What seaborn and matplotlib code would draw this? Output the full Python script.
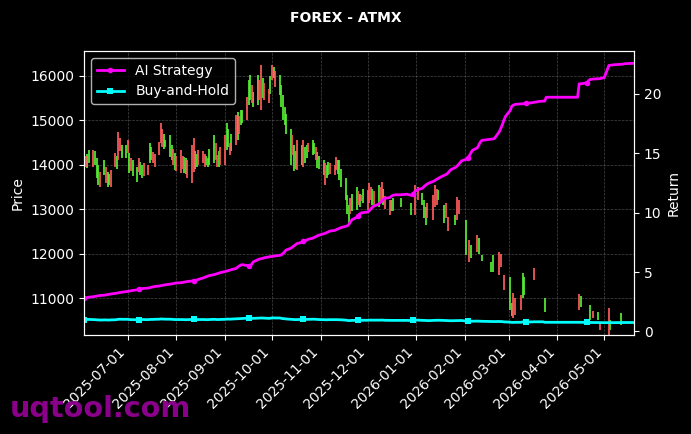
import numpy as np
import pandas as pd
import matplotlib
matplotlib.use("Agg")
import matplotlib.pyplot as plt
import matplotlib.dates as mdates
import seaborn as sns

N = float("nan")

# ---------------- data ----------------
start_date, end_date = "2025-06-03", "2026-05-20"
closed_days = ["2026-02-16", "2026-02-17", "2026-04-03", "2026-04-06"]
title = "FOREX - ATMX"

# candle direction per trading day (G = up, R = down, . = no candle), one group per week
candle_dir = ("GRGG RGGGR GRGGR RGRRG GRGRG GRGGR RGGRR RRRGG GGRGR RRGGR RRGGR RRGGG GRRGR "
              "RGGRG RGRGG RGGRG GRRGR RGRGR GGGGG GRGGR GRGGR GGRGG GRGGR RRGGG GGGRG GRGRG "
              "RRRGR GRRGR RGG.. G.... G.R.R GGGR. RRRG. GRR.. GRR.. G.RG. RG.G. GG. RR.R. "
              "GGRR. RGG.. .R... .G... .... .... ..RG. ..G.R GR... RG... .G... ...")

candle_low = [14000, 13950, 13930, 14050,
              13950, 14000, 13700, 13550, 13500,
              13770, 13600, 13500, 13550, 13500,
              13950, 13900, 14100, 14300, 14150,
              14150, 14260, 13820, 13850, 13750,
              13610, 13840, 13770, 13700, 13750,
              13770, 14040, 14100, 14040, 13950,
              14220, 14500, 14400, 14350, 14400,
              14180, 14100, 14000, 13880, 13850,
              13820, 13900, 13820, 13800, 13700,
              13590, 13840, 13900, 13950, 14000,
              14050, 13950, 14000, 13950, 14000,
              14040, 14100, 13950, 13950, 14000,
              13990, 14330, 14400, 14220, 14300,
              14450, 14560, 14700, 14900, 14950,
              15010, 15350, 15450, 15400, 15300,
              15350, 15450, 15230, 15500, 15450,
              15400, 15600, 15900, 15950, 15750,
              15570, 15300, 15010, 14900, 14700,
              14000, 14220, 13860, 13900, 13880,
              14000, 13950, 14050, 14150, 14290,
              14220, 14250, 14100, 13930, 13900,
              13770, 13550, 13700, 13770, 13800,
              13770, 13880, 13800, 13660, 13500,
              13210, 12900, 12640, 12900, 12950,
              12980, 13100, 13050, 13190, 13150,
              12980, 13150, 13200, 13100, 13050,
              13050, 13150, 13210, 13100, 13000,
              12870, 12950, 12950, N, N,
              13050, N, N, N, N,
              12870, N, 12870, N, 13200,
              13100, 12800, 12650, 12800, N,
              12760, 13050, 13100, 13200, N,
              12700, 12800, 12500, N, N,
              12650, 12760, 12900, N, N,
              11970, N, 11810, 11900, N,
              12040, 12000, N, 11830, N,
              11590, 11590, N,
              11520, 11700, N, 11180, N,
              10730, 10600, 10560, 10620, N,
              10730, 11000, 11070, N, N,
              N, 11400, N, N, N,
              N, 10680, N, N, N,
              N, N, N, N,
              N, N, N, N,
              N, N, 10730, 10800, N,
              N, N, 10510, N, 10550,
              10510, 10280, N, N, N,
              10170, 10280, N, N, N,
              N, 10390, N, N, N,
              N, N, N]

candle_high = [14230, 14200, 14250, 14340,
               14340, 14300, 14150, 14000, 13840,
               14100, 13950, 13840, 13800, 13880,
               14260, 14200, 14740, 14600, 14450,
               14450, 14560, 14260, 14150, 14100,
               13950, 14150, 14060, 14000, 14050,
               14000, 14490, 14400, 14290, 14250,
               14510, 14940, 14800, 14700, 14560,
               14670, 14450, 14350, 14270, 14200,
               14330, 14200, 14180, 14150, 14100,
               14450, 14600, 14300, 14250, 14330,
               14300, 14250, 14200, 14150, 14350,
               14670, 14500, 14220, 14300, 14400,
               14670, 14940, 14800, 14490, 14700,
               15120, 15190, 15100, 15230, 15230,
               15530, 15900, 16020, 15800, 15640,
               16020, 15900, 16250, 15950, 15850,
               15700, 16000, 16250, 16200, 16100,
               16020, 15800, 15570, 15300, 15150,
               14800, 14670, 14450, 14300, 14560,
               14450, 14560, 14400, 14450, 14490,
               14560, 14500, 14400, 14290, 14200,
               14110, 14040, 14000, 14060, 14050,
               14000, 14180, 14100, 14110, 13900,
               13700, 13320, 13100, 13250, 13350,
               13500, 13400, 13350, 13320, 13450,
               13430, 13590, 13500, 13450, 13400,
               13550, 13500, 13620, 13450, 13300,
               13210, 13200, 13250, N, N,
               13250, N, N, N, N,
               13140, N, 13550, N, 13500,
               13360, 13200, 13050, 13150, N,
               13320, 13550, 13450, 13430, N,
               13100, 13150, 12830, N, N,
               12870, 13280, 13200, N, N,
               12760, N, 12300, 12200, N,
               12420, 12350, N, 11970, N,
               11810, 11970, N,
               12040, 12000, N, 11520, N,
               11470, 10900, 11110, 11000, N,
               11070, 11560, 11470, N, N,
               N, 11680, N, N, N,
               N, 11000, N, N, N,
               N, N, N, N,
               N, N, N, N,
               N, N, 11090, 11050, N,
               N, N, 10840, N, 10700,
               10690, 10460, N, N, N,
               10780, 10510, N, N, N,
               N, 10660, N, N, N,
               N, N, N]

strategy_return = [2.80, 2.82, 2.85, 2.88,
                   2.92, 2.95, 2.97, 3.00, 3.02,
                   3.05, 3.07, 3.10, 3.12, 3.15,
                   3.20, 3.22, 3.25, 3.28, 3.30,
                   3.35, 3.38, 3.40, 3.42, 3.45,
                   3.50, 3.53, 3.56, 3.60, 3.62,
                   3.65, 3.68, 3.72, 3.75, 3.78,
                   3.82, 3.85, 3.88, 3.90, 3.93,
                   3.98, 4.00, 4.03, 4.06, 4.08,
                   4.10, 4.12, 4.15, 4.18, 4.20,
                   4.25, 4.26, 4.28, 4.33, 4.38,
                   4.50, 4.55, 4.60, 4.66, 4.70,
                   4.78, 4.82, 4.86, 4.90, 4.95,
                   5.04, 5.08, 5.12, 5.15, 5.20,
                   5.30, 5.40, 5.50, 5.58, 5.62,
                   5.55, 5.50, 5.52, 5.65, 5.85,
                   6.03, 6.10, 6.12, 6.15, 6.20,
                   6.28, 6.30, 6.31, 6.33, 6.36,
                   6.40, 6.45, 6.55, 6.70, 6.85,
                   7.00, 7.10, 7.20, 7.30, 7.40,
                   7.50, 7.57, 7.62, 7.68, 7.75,
                   7.85, 7.92, 8.00, 8.05, 8.10,
                   8.22, 8.26, 8.32, 8.38, 8.45,
                   8.50, 8.56, 8.62, 8.68, 8.74,
                   8.84, 8.88, 9.00, 9.20, 9.40,
                   9.60, 9.75, 9.90, 9.97, 10.00,
                   10.05, 10.15, 10.30, 10.45, 10.55,
                   10.70, 10.85, 10.95, 11.10, 11.20,
                   11.26, 11.35, 11.45, 11.48, 11.50,
                   11.50, 11.52, 11.52, 11.53, 11.55,
                   11.45, 11.55, 11.75, 11.85, 11.93,
                   12.05, 12.20, 12.30, 12.40, 12.48,
                   12.63, 12.70, 12.80, 12.88, 12.95,
                   13.15, 13.20, 13.30, 13.45, 13.60,
                   13.80, 13.90, 14.05, 14.20, 14.35,
                   14.50, 14.60, 14.80, 15.05, 15.25,
                   15.45, 15.70, 15.95, 16.09, 16.10,
                   16.18, 16.20, 16.25,
                   16.80, 17.10, 17.40, 17.80, 18.10,
                   18.60, 18.95, 19.05, 19.10, 19.12,
                   19.15, 19.15, 19.18, 19.20, 19.20,
                   19.25, 19.28, 19.30, 19.32, 19.35,
                   19.38, 19.38, 19.71, 19.71, 19.71,
                   19.71, 19.71, 19.71, 19.71,
                   19.71, 19.71, 19.71, 19.71,
                   19.71, 19.71, 20.84, 20.84, 20.86,
                   20.93, 21.10, 21.20, 21.22, 21.24,
                   21.26, 21.27, 21.30, 21.33, 21.35,
                   22.39, 22.40, 22.42, 22.44, 22.45,
                   22.47, 22.48, 22.50, 22.52, 22.54,
                   22.55, 22.56, 22.56]

buyhold_return = [1.00, 1.00, 1.01, 1.01,
                  1.00, 0.99, 0.98, 0.97, 0.96,
                  0.97, 0.97, 0.96, 0.96, 0.97,
                  0.98, 1.00, 1.02, 1.03, 1.02,
                  1.02, 1.02, 1.00, 0.99, 0.99,
                  0.98, 0.99, 0.99, 1.00, 1.00,
                  0.99, 1.01, 1.01, 1.01, 1.02,
                  1.03, 1.05, 1.04, 1.04, 1.03,
                  1.03, 1.02, 1.01, 1.00, 1.00,
                  1.00, 1.00, 0.99, 0.99, 0.99,
                  1.01, 1.02, 1.01, 1.00, 1.00,
                  1.00, 1.00, 0.99, 0.99, 1.00,
                  1.02, 1.01, 1.00, 1.00, 1.01,
                  1.02, 1.04, 1.04, 1.03, 1.04,
                  1.06, 1.07, 1.07, 1.08, 1.08,
                  1.10, 1.12, 1.13, 1.11, 1.10,
                  1.12, 1.12, 1.13, 1.13, 1.12,
                  1.10, 1.11, 1.14, 1.14, 1.13,
                  1.13, 1.10, 1.08, 1.07, 1.05,
                  1.02, 1.01, 1.00, 0.99, 1.00,
                  1.01, 1.01, 1.01, 1.02, 1.03,
                  1.03, 1.03, 1.02, 1.01, 1.00,
                  0.99, 0.98, 0.98, 0.99, 0.99,
                  0.99, 0.99, 0.99, 0.98, 0.98,
                  0.95, 0.93, 0.91, 0.92, 0.93,
                  0.93, 0.94, 0.94, 0.94, 0.94,
                  0.94, 0.95, 0.95, 0.95, 0.95,
                  0.95, 0.95, 0.96, 0.95, 0.94,
                  0.93, 0.93, 0.93, 0.93, 0.93,
                  0.93, 0.93, 0.93, 0.93, 0.93,
                  0.92, 0.93, 0.95, 0.95, 0.95,
                  0.93, 0.92, 0.91, 0.91, 0.91,
                  0.93, 0.94, 0.94, 0.94, 0.94,
                  0.92, 0.91, 0.90, 0.90, 0.90,
                  0.91, 0.92, 0.92, 0.92, 0.92,
                  0.87, 0.87, 0.86, 0.86, 0.86,
                  0.87, 0.86, 0.86, 0.85, 0.85,
                  0.83, 0.83, 0.83,
                  0.84, 0.83, 0.83, 0.80, 0.80,
                  0.78, 0.76, 0.76, 0.77, 0.77,
                  0.77, 0.80, 0.80, 0.80, 0.80,
                  0.80, 0.81, 0.81, 0.81, 0.81,
                  0.81, 0.77, 0.77, 0.77, 0.77,
                  0.77, 0.77, 0.77, 0.77,
                  0.77, 0.77, 0.77, 0.77,
                  0.77, 0.77, 0.77, 0.77, 0.77,
                  0.76, 0.76, 0.76, 0.75, 0.75,
                  0.75, 0.74, 0.74, 0.74, 0.74,
                  0.74, 0.74, 0.74, 0.74, 0.74,
                  0.75, 0.75, 0.75, 0.75, 0.75,
                  0.75, 0.75, 0.75]

# ---------------- figure ----------------
dates = pd.bdate_range(start_date, end_date)
dates = dates[~dates.isin(pd.to_datetime(closed_days))]
dirs = np.array(list(candle_dir.replace(" ", "")))
lows = np.array(candle_low, dtype=float)
highs = np.array(candle_high, dtype=float)
n = len(dates)
assert len(dirs) == n and len(lows) == n and len(highs) == n, (n, len(dirs), len(lows), len(highs))
assert len(strategy_return) == n and len(buyhold_return) == n, (len(strategy_return), len(buyhold_return))

plt.style.use("dark_background")
plt.rcParams["font.family"] = ["DejaVu Sans"]

fig = plt.figure(figsize=(6.91, 4.34), dpi=100, facecolor="black")
ax = fig.add_axes([84 / 691, 1 - 335 / 434, 550 / 691, 284 / 434])
ax.set_facecolor("black")

up_color, down_color = "#55ee33", "#ff5a5a"
for flag, col in (("G", up_color), ("R", down_color)):
    m = (dirs == flag) & ~np.isnan(lows)
    ax.vlines(dates[m], lows[m], highs[m], color=col, linewidth=1.25, zorder=2)

ax.set_ylim(10170, 16560)
ax.set_xlim(dates[0], dates[-1])
ax.grid(True, color="#666666", linestyle="--", linewidth=0.5, alpha=0.7)
ax.set_axisbelow(True)
ax.set_ylabel("Price", color="white", fontsize=10)
ax.set_xlabel("")

ax2 = ax.twinx()
df = pd.DataFrame({"Date": dates, "AI Strategy": strategy_return,
                   "Buy-and-Hold": buyhold_return})
sns.lineplot(data=df, x="Date", y="AI Strategy", ax=ax2, color="#ff00ff",
             linewidth=2, marker="o", markersize=4, markevery=25,
             markeredgewidth=0, label="AI Strategy")
sns.lineplot(data=df, x="Date", y="Buy-and-Hold", ax=ax2, color="#00ffff",
             linewidth=2, marker="s", markersize=4, markevery=25,
             markeredgewidth=0, label="Buy-and-Hold")
ax2.set_ylim(-0.3, 23.6)
ax2.set_ylabel("Return", color="white", fontsize=10)
ax2.set_xlabel("")
ax2.set_xlim(dates[0], dates[-1])

ax.xaxis.set_major_locator(mdates.MonthLocator())
ax.xaxis.set_major_formatter(mdates.DateFormatter("%Y-%m-%d"))
plt.setp(ax.get_xticklabels(), rotation=45, ha="right")

for a in (ax, ax2):
    a.tick_params(colors="white", labelsize=10)
    for s in a.spines.values():
        s.set_color("white")

leg = ax2.legend(loc="upper left", facecolor="black", edgecolor="#dddddd",
                 labelcolor="white", fontsize=10)

fig.suptitle(title, color="white", fontweight="bold", fontsize=10, y=0.975)
fig.text(10 / 691, 1 - 417 / 434, "uqtool.com", color="#8b008b", fontsize=20.7,
         fontweight="bold", va="baseline", ha="left", zorder=10)

fig.savefig("out.png", dpi=100, facecolor="black")
